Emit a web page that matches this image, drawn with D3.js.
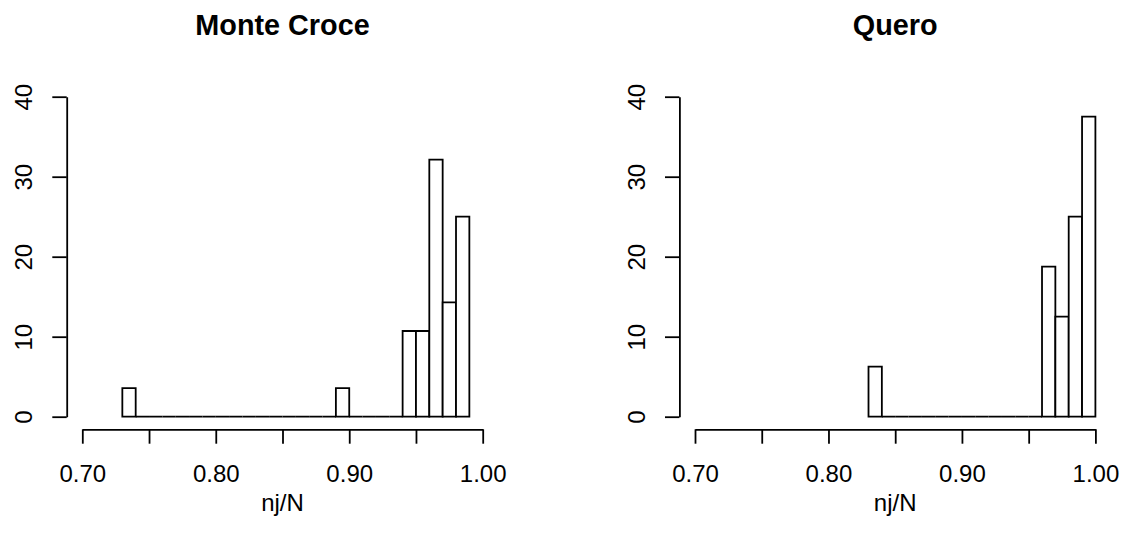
<!DOCTYPE html>
<html>
<head>
<meta charset="utf-8">
<script src="https://cdn.jsdelivr.net/npm/d3@7"></script>
<style>
  body { margin: 0; background: #fff; }
  svg { display: block; font-family: "Liberation Sans", Arial, sans-serif; }
</style>
</head>
<body>
<svg id="chart" width="1121" height="545"></svg>
<script>
// histogram data: counts per bin of width 0.01
const binWidth = 0.01;
const monteCroceStart = 0.73;
const monteCroceCounts = [1, 0, 0, 0, 0, 0, 0, 0, 0, 0, 0, 0, 0, 0, 0, 0, 1, 0, 0, 0, 0, 3, 3, 9, 4, 7];
const queroStart = 0.83;
const queroCounts = [1, 0, 0, 0, 0, 0, 0, 0, 0, 0, 0, 0, 0, 3, 2, 4, 6];
const xTicks = [0.7, 0.75, 0.8, 0.85, 0.9, 0.95, 1.0];
const xLabelTicks = [0.7, 0.8, 0.9, 1.0];
const yTicks = [0, 10, 20, 30, 40];

const svg = d3.select("#chart");

const renderHist = (title, start, counts, left) => {
  const N = d3.sum(counts);
  const bins = counts.map((c, i) => ({
    x0: start + i * binWidth,
    x1: start + (i + 1) * binWidth,
    density: c / (N * binWidth),
  }));

  const axisX = left + 15.6; // y-axis sits a bit left of 0.70
  const xScale = d3.scaleLinear().domain([0.7, 1.0]).range([axisX, axisX + 400.4]);
  const yScale = d3.scaleLinear().domain([0, 40]).range([416.7, 96.7]);

  const g = svg.append("g");

  // bars as closed paths so empty bins still show as a flat line (like R)
  g.selectAll("path.bar")
    .data(bins)
    .enter()
    .append("path")
    .attr("class", "bar")
    .attr("d", (d) => {
      const xa = xScale(d.x0), xb = xScale(d.x1);
      const y0 = yScale(0), yt = yScale(d.density);
      return `M${xa},${y0}L${xa},${yt}L${xb},${yt}L${xb},${y0}Z`;
    })
    .attr("fill", "white")
    .attr("stroke", "black")
    .attr("stroke-width", 1.8);

  // x axis
  const xAxisG = g
    .append("g")
    .attr("transform", `translate(0, 429.3)`)
    .call(
      d3.axisBottom(xScale)
        .tickValues(xTicks)
        .tickSize(14.4)
        .tickSizeOuter(0)
        .tickFormat((d) => (xLabelTicks.some((t) => Math.abs(t - d) < 1e-9) ? d3.format(".2f")(d) : ""))
    );
  xAxisG.selectAll(".domain, .tick line").attr("stroke", "black").attr("stroke-width", 1.8);
  xAxisG.selectAll(".tick text")
    .attr("y", 52.4)
    .attr("dy", 0)
    .attr("fill", "black")
    .attr("font-size", 24)
    .attr("font-family", "Liberation Sans, Arial, sans-serif");

  // y axis
  const yAxisG = g
    .append("g")
    .attr("transform", `translate(${left}, 0)`)
    .call(d3.axisLeft(yScale).tickValues(yTicks).tickSize(14.4).tickSizeOuter(0));
  yAxisG.selectAll(".domain, .tick line").attr("stroke", "black").attr("stroke-width", 1.8);
  yAxisG.selectAll(".tick text")
    .attr("x", 0)
    .attr("dy", 0)
    .attr("transform", "translate(-34.7,0) rotate(-90)")
    .attr("text-anchor", "middle")
    .attr("fill", "black")
    .attr("font-size", 24)
    .attr("font-family", "Liberation Sans, Arial, sans-serif");

  const midX = xScale(0.85);

  // title
  g.append("text")
    .text(title)
    .attr("x", midX)
    .attr("y", 35)
    .attr("text-anchor", "middle")
    .attr("font-weight", "bold")
    .attr("font-size", 28.8);

  // x label
  g.append("text")
    .text("nj/N")
    .attr("x", midX)
    .attr("y", 511)
    .attr("text-anchor", "middle")
    .attr("font-size", 24);
};

renderHist("Monte Croce", monteCroceStart, monteCroceCounts, 66.7);
renderHist("Quero", queroStart, queroCounts, 679.4);
</script>
</body>
</html>
